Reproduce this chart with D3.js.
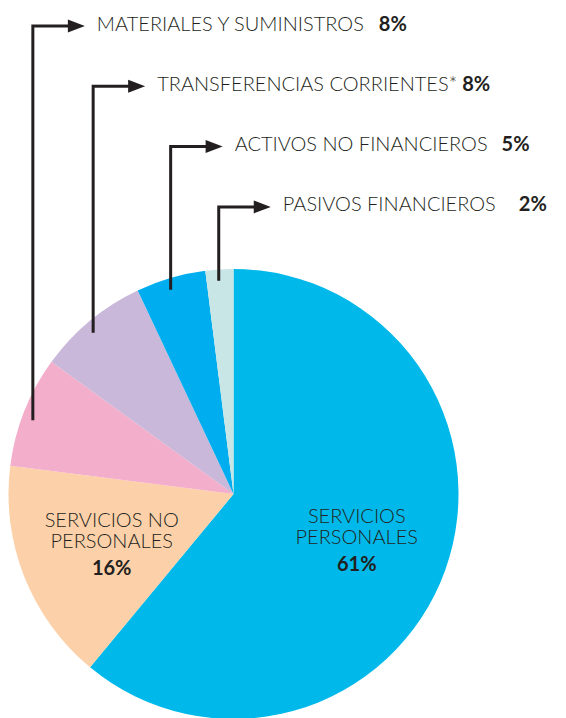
<!DOCTYPE html>
<html>
<head>
<meta charset="utf-8">
<script src="https://cdn.jsdelivr.net/npm/d3@7"></script>
<style>
  html, body { margin: 0; padding: 0; background: #fff; }
  svg { display: block; }
  text { font-family: Lato, "Open Sans", sans-serif; fill: #231f20; }
</style>
</head>
<body>
<div id="chart"></div>
<script>
// slice order: clockwise from 12 o'clock
const categories = [
    'SERVICIOS PERSONALES',
    'SERVICIOS NO PERSONALES',
    'MATERIALES Y SUMINISTROS',
    'TRANSFERENCIAS CORRIENTES*',
    'ACTIVOS NO FINANCIEROS',
    'PASIVOS FINANCIEROS'
];
const shares = [61, 16, 8, 8, 5, 2];
const colors = ['#00b9ea', '#fcd1a9', '#f3aecb', '#c9b8d9', '#00aeef', '#c9e6e6'];
// the two big slices carry their label inside, split on two lines
const insideLabels = [['SERVICIOS', 'PERSONALES'], ['SERVICIOS NO', 'PERSONALES']];

const width = 566, height = 718;
const cx = 233.5, cy = 494, radius = 225;

const svg = d3.select('#chart')
    .append('svg')
    .attr('width', width)
    .attr('height', height);

const pie = d3.pie().sort(null).value(d => d);
const arcs = pie(shares);

const arc = d3.arc().innerRadius(0).outerRadius(radius);
const labelArc = d3.arc().innerRadius(131).outerRadius(131);

const g = svg.append('g').attr('transform', `translate(${cx},${cy})`);

g.selectAll('path.slice')
    .data(arcs)
    .enter().append('path')
    .attr('class', 'slice')
    .attr('d', arc)
    .attr('fill', (d, i) => colors[i]);

// labels inside the two big slices
insideLabels.forEach((lines, i) => {
    const [x, y] = labelArc.centroid(arcs[i]);
    lines.forEach((line, j) => {
        g.append('text')
            .attr('x', x).attr('y', y - 15 + j * 21)
            .attr('text-anchor', 'middle')
            .style('font-size', '20px')
            .style('font-weight', 300)
            .text(line);
    });
    g.append('text')
        .attr('x', x).attr('y', y + 33)
        .attr('text-anchor', 'middle')
        .style('font-size', '20px')
        .style('font-weight', 'bold')
        .text(shares[i] + '%');
});

// leader lines for the small slices
const rowTop = 26, rowStep = 60.3, stem = 52, headLen = 17, headHalf = 6.5;
const pctGap = [15, 5, 14, 23];
const ink = '#231f20';

d3.range(2, shares.length).forEach((i, row) => {
    const d = arcs[i];
    const a = d.startAngle + 0.45 * (d.endAngle - d.startAngle);
    const r = radius * 0.95;
    const x0 = r * Math.sin(a);
    const y0 = -r * Math.cos(a);
    const yRow = rowTop + row * rowStep - cy;
    const tip = x0 + stem;

    g.append('path')
        .attr('d', `M${x0},${y0}V${yRow}H${tip - headLen + 1}`)
        .attr('fill', 'none')
        .attr('stroke', ink)
        .attr('stroke-width', 3)
        .attr('stroke-linejoin', 'miter');

    g.append('path')
        .attr('d', `M${tip - headLen},${yRow - headHalf}L${tip},${yRow}L${tip - headLen},${yRow + headHalf}Z`)
        .attr('fill', ink);

    const name = g.append('text')
        .attr('x', tip + 12)
        .attr('y', yRow + 4.5)
        .style('font-size', '20px')
        .style('font-weight', 300)
        .text(categories[i]);

    const w = name.node().getComputedTextLength();
    g.append('text')
        .attr('x', tip + 12 + w + pctGap[row])
        .attr('y', yRow + 4.5)
        .style('font-size', '20px')
        .style('font-weight', 'bold')
        .text(shares[i] + '%');
});
</script>
</body>
</html>
